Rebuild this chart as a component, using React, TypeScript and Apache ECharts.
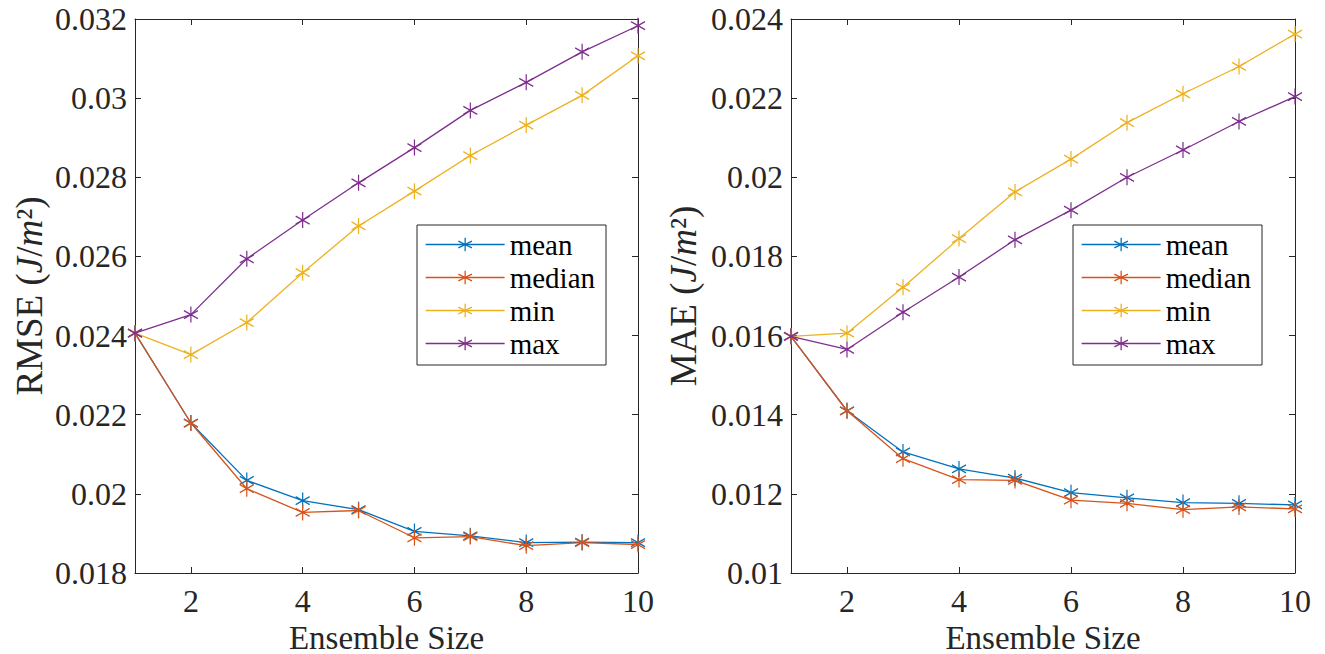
import React, { useEffect, useRef } from 'react';
import * as echarts from 'echarts';

// ---- data ----
const ensembleSizes = [1, 2, 3, 4, 5, 6, 7, 8, 9, 10];
const xTickValues = [2, 4, 6, 8, 10];

const rmseMean = [0.02406, 0.02179, 0.02034, 0.01983, 0.0196, 0.01905, 0.01894, 0.01877, 0.01878, 0.01877];
const rmseMedian = [0.02406, 0.02179, 0.02013, 0.01953, 0.01958, 0.01889, 0.01892, 0.01869, 0.01877, 0.01872];
const rmseMin = [0.02406, 0.02352, 0.02433, 0.02559, 0.02677, 0.02765, 0.02855, 0.02932, 0.03007, 0.03107];
const rmseMax = [0.02406, 0.02453, 0.02594, 0.02692, 0.02786, 0.02875, 0.02969, 0.0304, 0.03117, 0.03183];

const maeMean = [0.01598, 0.0141, 0.01306, 0.01263, 0.0124, 0.01203, 0.0119, 0.01178, 0.01176, 0.01172];
const maeMedian = [0.01598, 0.0141, 0.01289, 0.01236, 0.01234, 0.01184, 0.01176, 0.0116, 0.01167, 0.01162];
const maeMin = [0.01598, 0.01606, 0.01722, 0.01845, 0.01963, 0.02046, 0.02138, 0.02211, 0.0228, 0.02362];
const maeMax = [0.01598, 0.01565, 0.01659, 0.01748, 0.01842, 0.01917, 0.02, 0.02069, 0.02141, 0.02204];

const seriesNames = ['mean', 'median', 'min', 'max'];
const seriesColors = ['#0072BD', '#D95319', '#EDB120', '#7E2F8E'];

const rmseYMin = 0.018;
const rmseYMax = 0.032;
const maeYMin = 0.01;
const maeYMax = 0.024;
const yStep = 0.002;

const FONT = 'Liberation Serif';
const AX = '#262626';
const STAR = 'path://M0,-10L0,10M-8.66,-5L8.66,5M-8.66,5L8.66,-5';

function buildOption() {
  const axisLine = { show: true, onZero: false, lineStyle: { color: AX, width: 1 } };
  const tick = { show: true, inside: true, length: 6, lineStyle: { color: AX, width: 1 } };

  const grids = [
    { left: 135, top: 19, width: 503, height: 554, outerBoundsMode: 'none', containLabel: false },
    { left: 791, top: 19, width: 504, height: 554, outerBoundsMode: 'none', containLabel: false },
  ];

  const yNames = ['RMSE', 'MAE'];
  const yRanges = [
    [rmseYMin, rmseYMax],
    [maeYMin, maeYMax],
  ];
  const nameGaps = [87, 89];

  const xAxis: any[] = [];
  const yAxis: any[] = [];
  [0, 1].forEach((g) => {
    xAxis.push({
      type: 'value',
      gridIndex: g,
      position: 'bottom',
      min: 1,
      max: 10,
      axisLine,
      axisTick: { ...tick, customValues: xTickValues },
      axisLabel: { customValues: xTickValues, margin: 12, fontSize: 32, fontFamily: FONT, color: AX },
      splitLine: { show: false },
      name: 'Ensemble Size',
      nameLocation: 'middle',
      nameGap: 37,
      nameTextStyle: { fontSize: 33, fontFamily: FONT, color: AX },
    });
    xAxis.push({
      type: 'value',
      gridIndex: g,
      position: 'top',
      min: 1,
      max: 10,
      axisLine,
      axisTick: { ...tick, customValues: xTickValues },
      axisLabel: { show: false, customValues: xTickValues },
      splitLine: { show: false },
    });
    const [lo, hi] = yRanges[g];
    yAxis.push({
      type: 'value',
      gridIndex: g,
      position: 'left',
      min: lo,
      max: hi,
      interval: yStep,
      axisLine,
      axisTick: tick,
      axisLabel: {
        margin: 8,
        fontSize: 32,
        fontFamily: FONT,
        color: AX,
        formatter: (v: number) => String(parseFloat(v.toFixed(4))),
      },
      splitLine: { show: false },
      name: `{t|${yNames[g]} (}{i|J}{t|/}{i|m}{t|²)}`,
      nameLocation: 'middle',
      nameGap: nameGaps[g],
      nameTextStyle: {
        rich: {
          t: { fontSize: 37, fontFamily: FONT, color: AX },
          i: { fontSize: 37, fontFamily: FONT, fontStyle: 'italic', color: AX },
        },
      },
    });
    yAxis.push({
      type: 'value',
      gridIndex: g,
      position: 'right',
      min: lo,
      max: hi,
      interval: yStep,
      axisLine,
      axisTick: tick,
      axisLabel: { show: false },
      splitLine: { show: false },
    });
  });

  const groups = [
    [rmseMean, rmseMedian, rmseMin, rmseMax],
    [maeMean, maeMedian, maeMin, maeMax],
  ];
  const series: any[] = [];
  groups.forEach((vals, g) => {
    vals.forEach((arr, k) => {
      series.push({
        type: 'line',
        name: seriesNames[k],
        xAxisIndex: g * 2,
        yAxisIndex: g * 2,
        data: ensembleSizes.map((x, i) => [x, arr[i]]),
        symbol: STAR,
        symbolSize: [14, 16],
        showSymbol: true,
        lineStyle: { color: seriesColors[k], width: 1.3 },
        itemStyle: { color: seriesColors[k], borderColor: seriesColors[k], borderWidth: 1.3 },
        emphasis: { disabled: true },
        z: 2 + k,
      });
    });
  });

  const legendLefts = [417, 1073];
  const legend = legendLefts.map((left) => ({
    orient: 'vertical',
    left,
    top: 225,
    padding: [5, 11, 7, 8],
    itemGap: 4,
    itemWidth: 79,
    itemHeight: 17,
    backgroundColor: '#ffffff',
    borderColor: AX,
    borderWidth: 1,
    selectedMode: false,
    data: seriesNames,
    textStyle: { fontSize: 29, fontFamily: FONT, color: '#000' },
    itemStyle: { borderWidth: 1.3, borderColor: 'inherit' },
    lineStyle: { width: 1.3 },
  }));

  return {
    animation: false,
    backgroundColor: '#ffffff',
    grid: grids,
    xAxis,
    yAxis,
    legend,
    series,
  };
}

export default function App() {
  const ref = useRef<HTMLDivElement>(null);
  useEffect(() => {
    if (!ref.current) return;
    const chart = echarts.init(ref.current, null, { renderer: 'svg' });
    chart.setOption(buildOption() as any);
    return () => chart.dispose();
  }, []);
  return (
    <div
      ref={ref}
      style={{ position: 'absolute', left: 0, top: 0, width: 1325, height: 654, background: '#fff' }}
    />
  );
}
